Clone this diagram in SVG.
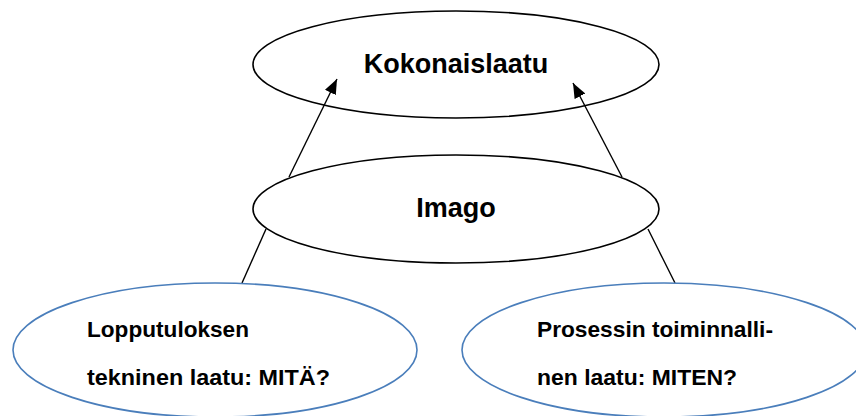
<svg xmlns="http://www.w3.org/2000/svg" width="856" height="416" viewBox="0 0 856 416">
  <style>
    .node { fill: #ffffff; stroke: #000000; stroke-width: 1.6; }
    .leaf { fill: #ffffff; stroke: #4a7ebb; stroke-width: 1.6; }
    .label { font-family: "Liberation Sans", Arial, sans-serif; font-weight: bold; fill: #000000; }
    .big { font-size: 27px; text-anchor: middle; }
    .small { font-size: 22px; }
    .edge { stroke: #000000; stroke-width: 1.4; fill: none; }
  </style>
  <defs>
    <marker id="arrow" viewBox="0 0 15 12" refX="15" refY="6" markerWidth="15" markerHeight="12" markerUnits="userSpaceOnUse" orient="auto">
      <path d="M0,0 L15,6 L0,12 Z" fill="#000000"/>
    </marker>
  </defs>

  <rect width="856" height="416" fill="#ffffff"/>

  <!-- connectors -->
  <g id="connectors">
    <line class="edge" x1="289" y1="177" x2="337" y2="79" marker-end="url(#arrow)"/>
    <line class="edge" x1="622" y1="177" x2="573" y2="83" marker-end="url(#arrow)"/>
    <line class="edge" x1="266" y1="229" x2="242" y2="283"/>
    <line class="edge" x1="648" y1="229" x2="675" y2="283"/>
  </g>

  <g id="kokonaislaatu">
    <ellipse class="node" cx="456" cy="64.5" rx="203" ry="53.5" fill="none" style="fill:none"/>
    <text class="label big" x="456" y="73">Kokonaislaatu</text>
  </g>

  <g id="imago">
    <ellipse class="node" cx="456" cy="209" rx="203" ry="54"/>
    <text class="label big" x="456" y="217">Imago</text>
  </g>

  <g id="lopputulos">
    <ellipse class="leaf" cx="215" cy="350" rx="202" ry="67"/>
    <text class="label small" x="87" y="337" textLength="162" lengthAdjust="spacingAndGlyphs">Lopputuloksen</text>
    <text class="label small" x="87" y="385" textLength="243" lengthAdjust="spacingAndGlyphs">tekninen laatu: MITÄ?</text>
  </g>

  <g id="prosessi">
    <ellipse class="leaf" cx="664" cy="350" rx="202" ry="67"/>
    <text class="label small" x="537" y="337" textLength="236" lengthAdjust="spacingAndGlyphs">Prosessin toiminnalli-</text>
    <text class="label small" x="537" y="385" textLength="200" lengthAdjust="spacingAndGlyphs">nen laatu: MITEN?</text>
  </g>
</svg>
